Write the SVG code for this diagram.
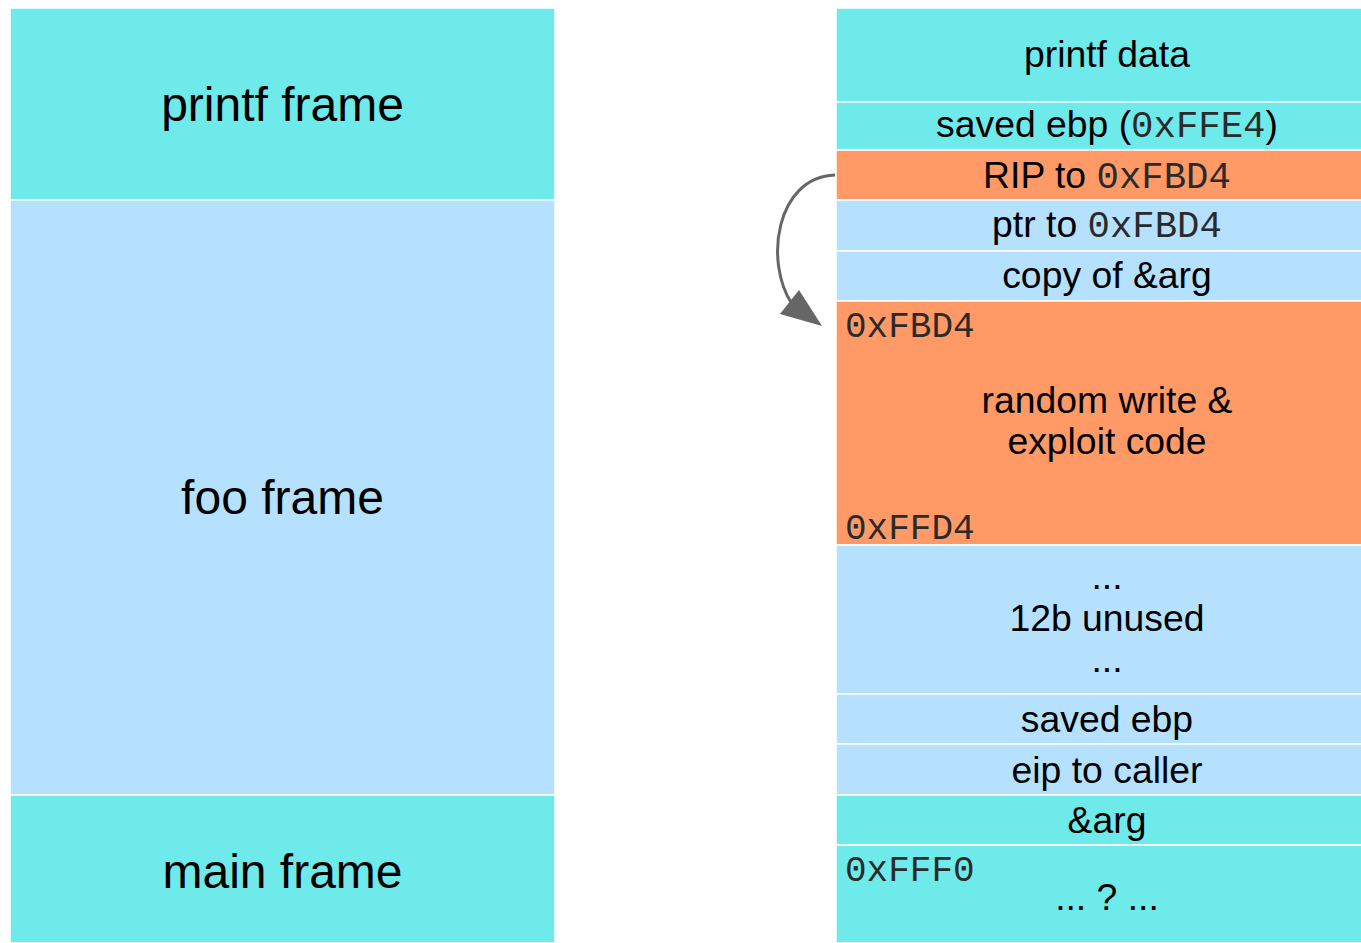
<svg xmlns="http://www.w3.org/2000/svg" width="1361" height="943" viewBox="0 0 1361 943">
<style>
.cy{fill:#6FEAEA;stroke:#ffffff;stroke-width:1.5}
.lb{fill:#B5E0FE;stroke:#ffffff;stroke-width:1.5}
.or{fill:#FF9966;stroke:#ffffff;stroke-width:1.5}
.big{font-family:"Liberation Sans",Arial,sans-serif;font-size:48px;fill:#000;text-anchor:middle}
.t{font-family:"Liberation Sans",Arial,sans-serif;font-size:37.33px;fill:#000;text-anchor:middle}
.m{font-family:"Liberation Mono","Courier New",monospace;fill:#2a2a2a}
.ml{font-family:"Liberation Mono","Courier New",monospace;font-size:36px;fill:#2a2a2a}
.arr{fill:none;stroke:#666666;stroke-width:3}
.head{fill:#666666}
</style>
<g id="printf-frame"><rect class="cy" x="10" y="8" width="545" height="192"/><text class="big" x="282.5" y="121">printf frame</text></g>
<g id="foo-frame"><rect class="lb" x="10" y="200" width="545" height="595"/><text class="big" x="282.5" y="514">foo frame</text></g>
<g id="main-frame"><rect class="cy" x="10" y="795" width="545" height="148"/><text class="big" x="282.5" y="888">main frame</text></g>

<g id="printf-data"><rect class="cy" x="836" y="8" width="545" height="94"/><text class="t" x="1107" y="67">printf data</text></g>
<g id="saved-ebp-printf"><rect class="cy" x="836" y="102" width="545" height="48"/><text class="t" x="1107" y="137">saved ebp (<tspan class="m">0xFFE4</tspan>)</text></g>
<g id="rip"><rect class="or" x="836" y="150" width="545" height="50"/><text class="t" x="1107" y="188">RIP to <tspan class="m">0xFBD4</tspan></text></g>
<g id="ptr"><rect class="lb" x="836" y="200" width="545" height="51"/><text class="t" x="1107" y="237">ptr to <tspan class="m">0xFBD4</tspan></text></g>
<g id="copy-arg"><rect class="lb" x="836" y="251" width="545" height="50"/><text class="t" x="1107" y="288">copy of &amp;arg</text></g>
<g id="exploit"><rect class="or" x="836" y="301" width="545" height="244"/>
<text class="ml" x="845" y="337">0xFBD4</text>
<text class="t" x="1107" y="413">random write &amp;</text>
<text class="t" x="1107" y="454">exploit code</text>
<text class="ml" x="845" y="539">0xFFD4</text></g>
<g id="unused"><rect class="lb" x="836" y="545" width="545" height="149"/>
<text class="t" x="1107" y="589">...</text>
<text class="t" x="1107" y="631">12b unused</text>
<text class="t" x="1107" y="672">...</text></g>
<g id="saved-ebp-foo"><rect class="lb" x="836" y="694" width="545" height="50"/><text class="t" x="1107" y="732">saved ebp</text></g>
<g id="eip"><rect class="lb" x="836" y="744" width="545" height="51"/><text class="t" x="1107" y="783">eip to caller</text></g>
<g id="arg"><rect class="cy" x="836" y="795" width="545" height="50"/><text class="t" x="1107" y="833">&amp;arg</text></g>
<g id="unknown"><rect class="cy" x="836" y="845" width="545" height="98"/>
<text class="ml" x="845" y="881">0xFFF0</text>
<text class="t" x="1107" y="910">... ? ...</text></g>

<g id="connectors">
<path class="arr" d="M835,175 C776,177 764,262 792,304"/>
<polygon class="head" points="822,326 780,314 799,290"/>
</g>
</svg>
